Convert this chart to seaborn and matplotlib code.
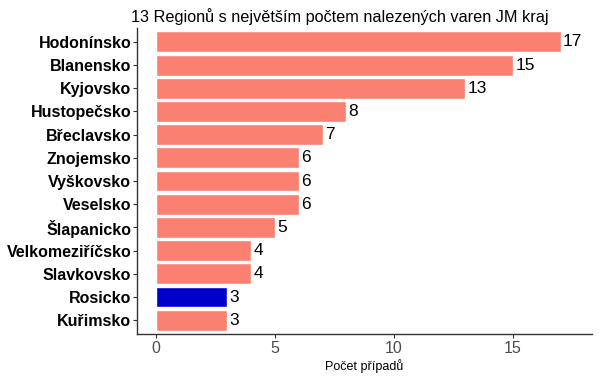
import matplotlib
matplotlib.use('Agg')
import matplotlib.pyplot as plt
import seaborn as sns
import pandas as pd

regions = ['Hodonínsko', 'Blanensko', 'Kyjovsko', 'Hustopečsko', 'Břeclavsko',
           'Znojemsko', 'Vyškovsko', 'Veselsko', 'Šlapanicko', 'Velkomeziříčsko',
           'Slavkovsko', 'Rosicko', 'Kuřimsko']
counts = [17, 15, 13, 8, 7, 6, 6, 6, 5, 4, 4, 3, 3]
highlight = 'Rosicko'

df = pd.DataFrame({'region': regions, 'count': counts})
palette = ['#0000CD' if r == highlight else '#FA8072' for r in regions]

sns.set_theme(style='white')
plt.rcParams['font.family'] = ['Liberation Sans', 'DejaVu Sans']

fig = plt.figure(figsize=(6, 3.78), dpi=100)
ax = fig.add_axes([0.228, 0.116, 0.758, 0.810])

sns.barplot(data=df, x='count', y='region', hue='region', palette=palette,
            legend=False, width=0.9, edgecolor='white', linewidth=1,
            saturation=1, ax=ax)

for i, v in enumerate(counts):
    ax.text(v + 0.1, i, str(v), va='center', ha='left', fontsize=12.5, color='black')

ax.set_xlim(-0.8, 18.3)
ax.set_ylim(12.6, -0.6)
ax.set_xticks([0, 5, 10, 15])
ax.set_xlabel('Počet případů', fontsize=9, color='black', labelpad=2)
ax.set_ylabel('')
ax.text(0.446, 1.01, '13 Regionů s největším počtem nalezených varen JM kraj',
        transform=ax.transAxes, ha='center', va='bottom', fontsize=11.7, color='black')

for lbl in ax.get_yticklabels():
    lbl.set_fontweight('bold')
    lbl.set_fontsize(11.5)
    lbl.set_color('black')
ax.tick_params(axis='x', bottom=True, labelsize=11.5, labelcolor='#4D4D4D',
               length=3, width=0.8, color='#333333', pad=2)
ax.tick_params(axis='y', left=True, length=3, width=0.8, color='#333333', pad=1)

sns.despine(ax=ax)
for s in ['left', 'bottom']:
    ax.spines[s].set_color('#333333')
    ax.spines[s].set_linewidth(1)

fig.savefig('out.png', dpi=100)
